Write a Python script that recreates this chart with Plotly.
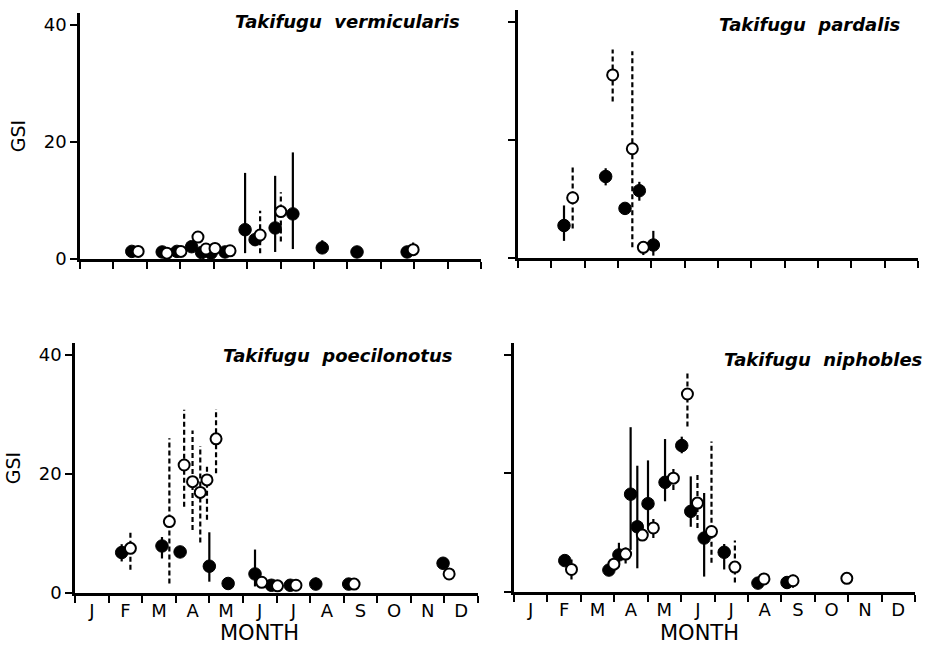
import plotly.graph_objects as go

# ---------------- data (month position: 0 = 1 Jan, 12 = 31 Dec) ----------------
months_lbl = ["J", "F", "M", "A", "M", "J", "J", "A", "S", "O", "N", "D"]
y_ticks = [0, 20, 40]

# Takifugu vermicularis
verm_f_x = [1.55, 2.46, 2.90, 3.34, 3.64, 3.92, 4.34, 4.94, 5.24, 5.84, 6.37, 7.25, 8.29, 9.79]
verm_f_y = [1.3, 1.2, 1.3, 2.1, 1.1, 1.0, 1.2, 5.0, 3.3, 5.3, 7.7, 1.9, 1.2, 1.2]
verm_f_hi = [2.2, 1.9, 2.0, 3.0, 1.8, 1.7, 1.9, 14.7, 4.3, 14.2, 18.2, 3.2, 2.0, 1.9]
verm_f_lo = [0.4, 0.5, 0.5, 1.2, 0.4, 0.3, 0.5, 1.0, 2.3, 1.2, 1.7, 0.9, 0.4, 0.5]
verm_o_x = [1.74, 2.60, 3.02, 3.53, 3.77, 4.04, 4.49, 5.39, 6.01, 9.97]
verm_o_y = [1.3, 1.0, 1.3, 3.75, 1.7, 1.8, 1.4, 4.1, 8.1, 1.6]
verm_o_hi = [2.2, 1.6, 2.0, 4.8, 2.6, 2.7, 2.1, 8.25, 11.4, 3.0]
verm_o_lo = [0.5, 0.4, 0.6, 2.8, 0.9, 1.0, 0.7, 1.0, 3.0, 0.6]

# Takifugu pardalis
pard_f_x = [1.38, 2.63, 3.21, 3.64, 4.06]
pard_f_y = [5.5, 13.8, 8.4, 11.4, 2.2]
pard_f_hi = [8.9, 15.2, 9.0, 12.9, 4.6]
pard_f_lo = [2.9, 12.3, 7.8, 9.7, 0.4]
pard_o_x = [1.64, 2.84, 3.43, 3.76]
pard_o_y = [10.2, 31.0, 18.5, 1.8]
pard_o_hi = [15.6, 35.3, 35.0, 3.0]
pard_o_lo = [5.0, 26.5, 1.8, 0.5]

# Takifugu poecilonotus
poec_f_x = [1.39, 2.59, 3.13, 4.0, 4.56, 5.36, 5.85, 6.41, 7.17, 8.15, 10.96]
poec_f_y = [6.8, 7.9, 6.9, 4.5, 1.6, 3.2, 1.3, 1.3, 1.5, 1.5, 5.0]
poec_f_hi = [8.2, 9.4, 7.7, 10.2, 2.3, 7.3, 2.0, 2.0, 2.6, 2.2, 5.8]
poec_f_lo = [5.3, 5.8, 6.0, 1.9, 0.9, 1.1, 0.6, 0.6, 0.6, 0.8, 4.2]
poec_o_x = [1.65, 2.81, 3.25, 3.5, 3.73, 3.93, 4.2, 5.56, 6.03, 6.58, 8.31, 11.14]
poec_o_y = [7.5, 12.0, 21.5, 18.7, 16.9, 19.0, 25.9, 1.8, 1.2, 1.3, 1.5, 3.2]
poec_o_hi = [10.6, 26.0, 30.8, 27.3, 24.7, 21.2, 30.9, 2.5, 1.9, 2.0, 2.2, 4.0]
poec_o_lo = [3.9, 1.6, 14.5, 10.6, 8.5, 12.3, 20.1, 1.1, 0.5, 0.6, 0.8, 2.4]

# Takifugu niphobles
niph_f_x = [1.52, 2.84, 3.14, 3.49, 3.69, 4.01, 4.52, 5.02, 5.29, 5.69, 6.29, 7.30, 8.17]
niph_f_y = [5.3, 3.7, 6.25, 16.5, 11.0, 14.9, 18.5, 24.7, 13.6, 9.1, 6.7, 1.5, 1.6]
niph_f_hi = [6.1, 4.3, 8.3, 27.8, 21.3, 22.2, 25.8, 26.2, 19.5, 16.7, 8.1, 2.3, 2.6]
niph_f_lo = [4.5, 3.1, 4.3, 7.1, 4.0, 11.0, 15.3, 23.4, 11.0, 2.6, 3.8, 0.7, 0.6]
niph_o_x = [1.72, 2.99, 3.34, 3.84, 4.17, 4.77, 5.19, 5.49, 5.91, 6.61, 7.48, 8.35, 9.96]
niph_o_y = [3.8, 4.7, 6.4, 9.6, 10.8, 19.2, 33.4, 15.0, 10.2, 4.2, 2.2, 1.9, 2.3]
niph_o_hi = [5.5, 5.4, 7.6, 10.6, 12.3, 20.9, 36.9, 19.8, 25.4, 8.7, 3.0, 3.1, 3.1]
niph_o_lo = [2.1, 4.0, 4.8, 8.6, 9.1, 17.2, 27.9, 10.8, 4.95, 1.6, 1.4, 0.7, 1.5]

panels = [
    ("Takifugu vermicularis", verm_f_x, verm_f_y, verm_f_hi, verm_f_lo,
     verm_o_x, verm_o_y, verm_o_hi, verm_o_lo),
    ("Takifugu pardalis", pard_f_x, pard_f_y, pard_f_hi, pard_f_lo,
     pard_o_x, pard_o_y, pard_o_hi, pard_o_lo),
    ("Takifugu poecilonotus", poec_f_x, poec_f_y, poec_f_hi, poec_f_lo,
     poec_o_x, poec_o_y, poec_o_hi, poec_o_lo),
    ("Takifugu niphobles", niph_f_x, niph_f_y, niph_f_hi, niph_f_lo,
     niph_o_x, niph_o_y, niph_o_hi, niph_o_lo),
]

W, H = 931, 645
# pixel geometry of each panel: (x0, x1, y_bottom, y_top)
geom = [
    (80, 481, 259, 13),
    (518, 918, 258, 10),
    (75, 478, 593, 343),
    (514, 915, 592, 343),
]
# title right end (px) and vertical centre (px)
title_pos = [(462, 22), (903, 25), (455, 355), (925, 359)]
month_title_x = [259, 699]

FONT = "DejaVu Sans"
fig = go.Figure()


def bar_xy(xs, lo, hi):
    bx, by = [], []
    for x, l, h in zip(xs, lo, hi):
        bx += [x, x, None]
        by += [l, h, None]
    return bx, by


for i, (name, fx, fy, fhi, flo, ox, oy, ohi, olo) in enumerate(panels):
    k = "" if i == 0 else str(i + 1)
    xa, ya = "x" + k, "y" + k
    bx, by = bar_xy(fx, flo, fhi)
    fig.add_trace(go.Scatter(x=bx, y=by, mode="lines", xaxis=xa, yaxis=ya,
                             line=dict(color="black", width=2.2), showlegend=False,
                             hoverinfo="skip"))
    bx, by = bar_xy(ox, olo, ohi)
    fig.add_trace(go.Scatter(x=bx, y=by, mode="lines", xaxis=xa, yaxis=ya,
                             line=dict(color="black", width=2.2, dash="5px,3px"),
                             showlegend=False, hoverinfo="skip"))
    fig.add_trace(go.Scatter(x=fx, y=fy, mode="markers", xaxis=xa, yaxis=ya,
                             marker=dict(color="black", size=12.5, line=dict(color="black", width=1)),
                             showlegend=False, name="filled"))
    fig.add_trace(go.Scatter(x=ox, y=oy, mode="markers", xaxis=xa, yaxis=ya,
                             marker=dict(color="white", size=11, line=dict(color="black", width=2)),
                             showlegend=False, name="open"))

    x0, x1, yb, yt = geom[i]
    bottom = i >= 2
    left = i % 2 == 0
    fig.layout["xaxis" + k] = dict(
        domain=[x0 / W, x1 / W], range=[0, 12], anchor=ya, automargin=False,
        showline=True, linecolor="black", linewidth=2.5,
        showgrid=False, zeroline=False,
        tickmode="array", tickvals=[m + 0.5 for m in range(12)],
        ticktext=months_lbl if bottom else [""] * 12,
        ticks="", ticklen=0,
        minor=dict(tickmode="array", tickvals=list(range(13)), ticks="outside",
                   ticklen=7, tickwidth=2, tickcolor="black", showgrid=False),
        tickfont=dict(family=FONT, size=18, color="black"),
    )
    fig.layout["yaxis" + k] = dict(
        domain=[1 - yb / H, 1 - yt / H], range=[0, 42], anchor=xa, automargin=False,
        showline=True, linecolor="black", linewidth=2.5,
        showgrid=False, zeroline=False,
        tickmode="array", tickvals=y_ticks,
        ticktext=[str(v) for v in y_ticks] if left else ["", "", ""],
        ticks="outside", ticklen=7, tickwidth=2, tickcolor="black",
        tickfont=dict(family=FONT, size=18, color="black"),
        title=dict(text="GSI" if left else "", font=dict(family=FONT, size=19, color="black"),
                   standoff=14),
    )
    tx, ty = title_pos[i]
    fig.add_annotation(text="<b><i>" + name.replace(" ", "&nbsp;&nbsp;") + "</i></b>",
                       xref="paper", yref="paper", x=tx / W, y=1 - ty / H,
                       xanchor="right", yanchor="middle", showarrow=False,
                       font=dict(family=FONT, size=18, color="black"))
    if bottom:
        fig.add_annotation(text="MONTH", xref="paper", yref="paper",
                           x=month_title_x[i - 2] / W, y=1 - 633 / H,
                           xanchor="center", yanchor="middle", showarrow=False,
                           font=dict(family=FONT, size=21, color="black"))

fig.update_layout(width=W, height=H, margin=dict(l=0, r=0, t=0, b=0),
                  paper_bgcolor="white", plot_bgcolor="white", hovermode=False)
fig.write_html("out.html", config={"displayModeBar": False},
               post_script="document.body.style.margin='0';document.body.style.overflow='hidden';")
